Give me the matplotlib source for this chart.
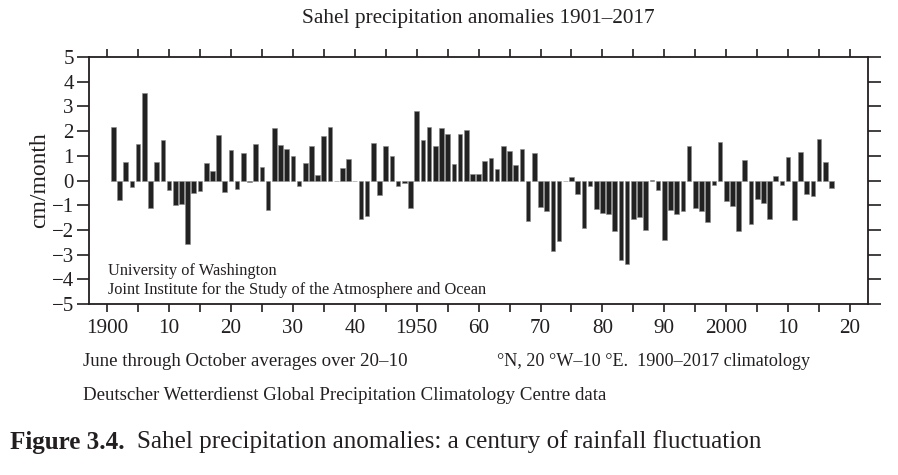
import matplotlib
matplotlib.use("Agg")
import matplotlib.pyplot as plt
import numpy as np

years = list(range(1901, 2018))
anomalies = [
    2.15, -0.77, 0.73, -0.26, 1.49, 3.54, -1.11, 0.76, 1.64, -0.38,   # 1901-1910
    -1.00, -0.95, -2.58, -0.50, -0.42, 0.72, 0.39, 1.86, -0.47, 1.24,  # 1911-1920
    -0.36, 1.11, -0.05, 1.49, 0.54, -1.19, 2.14, 1.43, 1.28, 0.99,     # 1921-1930
    -0.24, 0.70, 1.38, 0.24, 1.82, 2.16, -0.03, 0.49, 0.88, -0.02,     # 1931-1940
    -1.55, -1.45, 1.51, -0.58, 1.41, 1.01, -0.23, -0.12, -1.12, 2.82,  # 1941-1950
    1.65, 2.15, 1.38, 2.12, 1.88, 0.66, 1.88, 2.03, 0.28, 0.28,        # 1951-1960
    0.80, 0.92, 0.47, 1.38, 1.18, 0.64, 1.26, -1.65, 1.11, -1.07,      # 1961-1970
    -1.23, -2.86, -2.45, -0.04, 0.16, -0.54, -1.93, -0.24, -1.15, -1.32,  # 1971-1980
    -1.35, -2.05, -3.22, -3.38, -1.55, -1.49, -2.00, 0.03, -0.39, -2.41,  # 1981-1990
    -1.19, -1.35, -1.24, 1.39, -1.11, -1.23, -1.69, -0.19, 1.54, -0.84,   # 1991-2000
    -1.05, -2.05, 0.81, -1.78, -0.73, -0.92, -1.54, 0.20, -0.19, 0.95,    # 2001-2010
    -1.61, 1.15, -0.53, -0.61, 1.66, 0.76, -0.32,                         # 2011-2017
]
xtick_years = list(range(1900, 2021, 10))
xtick_labels = ["1900", "10", "20", "30", "40", "1950", "60", "70", "80", "90", "2000", "10", "20"]
ytick_vals = list(range(-5, 6))
ytick_labels = ["\u2212%d" % -v if v < 0 else "%d" % v for v in ytick_vals]

FONT = "Liberation Serif"
plt.rcParams["font.family"] = [FONT, "DejaVu Serif"]
TXT = "#231f20"

W, H = 898, 475
fig = plt.figure(figsize=(W / 100, H / 100), dpi=100)
# axes box: left 89, right 868, top 57, bottom 304 (pixels)
ax = fig.add_axes([89 / W, 1 - 304 / H, (868 - 89) / W, (304 - 57) / H])

ax.bar(years, anomalies, width=0.75, color="#222222", edgecolor="#8a8a8a",
       linewidth=0.4, zorder=2)
ax.set_xlim(1897.07, 2022.9)
ax.set_ylim(-5, 5)

ax.set_xticks(xtick_years)
ax.set_xticklabels(xtick_labels, fontsize=15.2, color=TXT)
ax.set_xticks(list(range(1905, 2021, 10)), minor=True)
ax.set_yticks(ytick_vals)
ax.set_yticklabels(ytick_labels, fontsize=15.0, color=TXT)
ax.tick_params(axis="x", which="both", direction="out", length=6, width=1.2,
               top=True, bottom=True, pad=5, color=TXT)
ax.tick_params(axis="y", which="both", direction="out", length=9, width=1.2,
               left=True, right=True, pad=2, color=TXT)
for s in ax.spines.values():
    s.set_linewidth(1.3)
    s.set_color(TXT)

ax.set_ylabel("cm/month", fontsize=17, color=TXT, labelpad=1)


def px(x, y):
    return (x / W, 1 - y / H)


fig.text(*px(108, 271), "University of Washington", fontsize=11.8, color=TXT, va="center")
fig.text(*px(108, 290), "Joint Institute for the Study of the Atmosphere and Ocean",
         fontsize=11.8, color=TXT, va="center")

fig.text(*px(478, 18), "Sahel precipitation anomalies 1901\u20132017", fontsize=15.3,
         color=TXT, ha="center", va="center")
fig.text(*px(83, 362), "June through October averages over 20\u201310", fontsize=13.6,
         color=TXT, va="center")
fig.text(*px(497, 362), "\u00b0N, 20 \u00b0W\u201310 \u00b0E.  1900\u20132017 climatology",
         fontsize=13.1, color=TXT, va="center")
fig.text(*px(83, 395), "Deutscher Wetterdienst Global Precipitation Climatology Centre data",
         fontsize=13.6, color=TXT, va="center")

cap1 = fig.text(*px(10, 442), "Figure 3.4.", fontsize=18.1, fontweight="bold",
                color=TXT, va="center")
fig.canvas.draw()
bb = cap1.get_window_extent()
fig.text(bb.x1 / W + 12 / W, 1 - 442 / H,
         "Sahel precipitation anomalies: a century of rainfall fluctuation",
         fontsize=18.1, color=TXT, va="center")

fig.savefig("out.png", dpi=100)
